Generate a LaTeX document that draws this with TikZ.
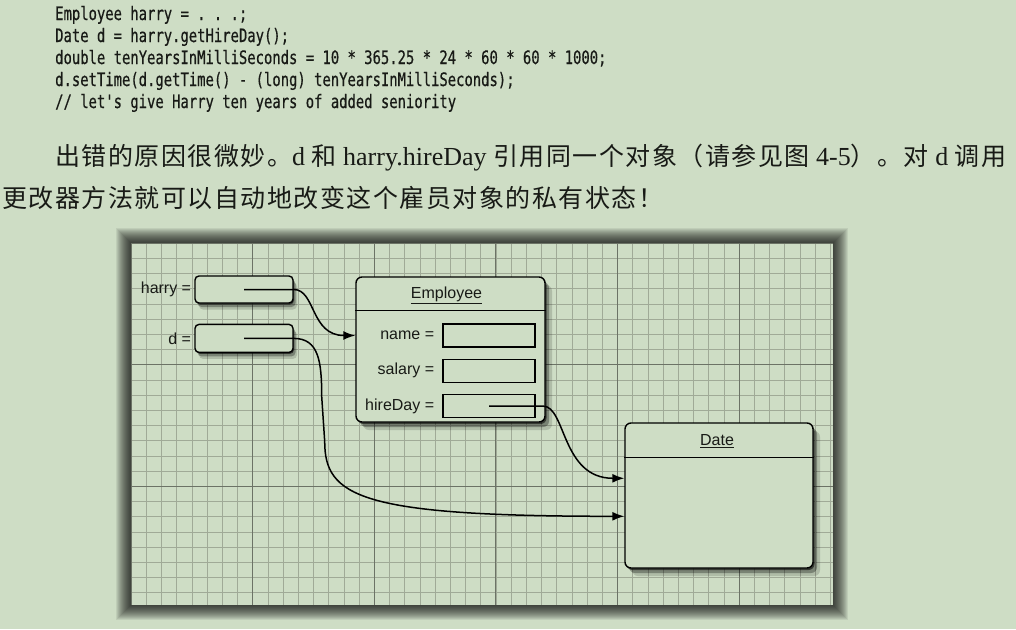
\documentclass[tikz,border=0pt]{standalone}
\usepackage{fontspec}
\setmainfont{Liberation Serif}
\setsansfont{Liberation Sans}
\setmonofont[FakeStretch=0.75,FakeBold=0.5]{DejaVu Sans Mono}
\newfontfamily\cjk[LetterSpace=6]{Noto Sans CJK SC}
\usetikzlibrary{positioning,arrows.meta,shadows,calc}
\definecolor{pagebg}{RGB}{206,221,197}
\definecolor{ink}{RGB}{24,26,22}
\definecolor{gridlo}{RGB}{160,170,151}
\definecolor{gridhi}{RGB}{108,115,102}
\newcommand{\zhtxt}[1]{{\cjk\fontsize{25}{30}\selectfont #1}}
\tikzstyle{codeln}=[anchor=base west, inner sep=0pt, text=ink,
                    font=\ttfamily\fontsize{18.5}{22}\selectfont]
\tikzstyle{paraln}=[anchor=base west, inner sep=0pt, text=ink,
                    font=\rmfamily\fontsize{26}{30}\selectfont]
\tikzstyle{ptrbox}=[rectangle, rounded corners=4pt, draw=black, fill=pagebg, line width=1.4pt,
                    minimum width=98pt, minimum height=27pt, inner sep=0pt,
                    drop shadow={shadow xshift=1pt, shadow yshift=-1.5pt, opacity=.55, fill=black},
                    drop shadow={shadow xshift=2.5pt, shadow yshift=-4pt, opacity=.3, fill=black},
                    drop shadow={shadow xshift=4pt, shadow yshift=-6.5pt, opacity=.15, fill=black}]
\tikzstyle{objbox}=[rectangle, rounded corners=6pt, draw=black, fill=pagebg, line width=1.4pt,
                    minimum width=189pt, minimum height=145pt, inner sep=0pt,
                    drop shadow={shadow xshift=1.5pt, shadow yshift=-2pt, opacity=.55, fill=black},
                    drop shadow={shadow xshift=4pt, shadow yshift=-5pt, opacity=.3, fill=black},
                    drop shadow={shadow xshift=7pt, shadow yshift=-8pt, opacity=.15, fill=black}]
\tikzstyle{fldbox}=[rectangle, draw=black, line width=1.3pt, minimum width=92pt,
                    minimum height=23pt, inner sep=0pt]
\tikzstyle{lbl}=[inner sep=0pt, text=ink, font=\sffamily\fontsize{16}{18}\selectfont]
\tikzstyle{hline}=[-, line width=1.3pt]
\tikzstyle{pline}=[-{Latex[length=12pt,width=9pt]}, line width=1.5pt]
\tikzstyle{gminor}=[gridlo, line width=0.6pt]
\tikzstyle{gmajor}=[gridhi, line width=0.8pt]

\begin{document}
\begin{tikzpicture}[x=1pt,y=1pt]
\path[fill=pagebg, use as bounding box] (0,0) rectangle (1016,-629);

\node (CODE1) [codeln] at (55,-20) {Employee harry = . . .;};
\node (CODE2) [codeln] at (55,-42) {Date d = harry.getHireDay();};
\node (CODE3) [codeln] at (55,-64) {double tenYearsInMilliSeconds = 10 * 365.25 * 24 * 60 * 60 * 1000;};
\node (CODE4) [codeln] at (55,-86) {d.setTime(d.getTime() - (long) tenYearsInMilliSeconds);};
\node (CODE5) [codeln] at (55,-108) {// let's give Harry ten years of added seniority};

\node (PARA1) [paraln] at (55,-165) {\zhtxt{出错的原因很微妙。}d \zhtxt{和} harry.hireDay \zhtxt{引用同一个对象（请参见图} 4-5\zhtxt{）。对} d \zhtxt{调用}};
\node (PARA2) [paraln] at (2,-207) {\zhtxt{更改器方法就可以自动地改变这个雇员对象的私有状态！}};

\node (PANEL) [minimum width=702pt, minimum height=362pt, inner sep=0pt, anchor=north west] at (131,-243) {};
\foreach \k in {1,...,15}
  \fill[black, opacity=0.07] ($(PANEL.south west)+(-\k,-\k)$) rectangle ($(PANEL.north east)+(\k,\k)$);
\fill[pagebg] (PANEL.south west) rectangle (PANEL.north east);
\foreach \i in {0,...,46}
  \draw[gminor] ($(PANEL.north west)+(\i*15.2,0)$) -- ($(PANEL.south west)+(\i*15.2,0)$);
\foreach \j in {0,...,23}
  \draw[gminor] ($(PANEL.north west)+(0,-\j*15.2)$) -- ($(PANEL.north east)+(0,-\j*15.2)$);
\foreach \i in {0,...,5}
  \draw[gmajor] ($(PANEL.north west)+(\i*121.6,0)$) -- ($(PANEL.south west)+(\i*121.6,0)$);
\foreach \j in {0,...,2}
  \draw[gmajor] ($(PANEL.north west)+(0,-\j*121.6)$) -- ($(PANEL.north east)+(0,-\j*121.6)$);

\node (HARRY) [ptrbox] at (244,-289.5) {};
\node (DREF) [ptrbox, minimum height=28pt, below=20pt of HARRY] {};
\node [lbl, left=3pt of HARRY] {harry =};
\node [lbl, left=3pt of DREF] {d =};

\node (EMP) [objbox] at (450.5,-349.5) {};
\draw[hline] ($(EMP.north west)+(0,-34)$) -- ($(EMP.north east)+(0,-34)$);
\node [lbl] at ($(EMP.north)+(-4,-19)$) {\underline{Employee}};
\node (NAMEF) [fldbox] at (489,-335.5) {};
\node (SALF) [fldbox, below=11pt of NAMEF] {};
\node (HIREF) [fldbox, below=11pt of SALF] {};
\node [lbl, left=8pt of NAMEF] {name =};
\node [lbl, left=8pt of SALF] {salary =};
\node [lbl, left=8pt of HIREF] {hireDay =};

\node (DATE) [objbox, minimum width=188pt] at (719,-495.5) {};
\draw[hline] ($(DATE.north west)+(0,-35)$) -- ($(DATE.north east)+(0,-35)$);
\node [lbl] at ($(DATE.north)+(-2,-19)$) {\underline{Date}};
\coordinate (DATEIN1) at ($(DATE.north west)+(0,-56)$);
\coordinate (DATEIN2) at ($(DATE.north west)+(0,-94)$);

\draw[pline] (HARRY.center) -- (HARRY.east) .. controls +(22,0) and +(-45,0) .. (EMP.west |- NAMEF);
\draw[pline] (DREF.center) -- (DREF.east) .. controls +(25,0) and +(0,35) .. ++(28,-58)
  -- ++(3,-45) .. controls +(0,-55) and +(-265,0) .. (DATEIN2);
\draw[pline] (HIREF.center) -- ++(54,0) .. controls +(23,0) and +(-63,0) .. (DATEIN1);

\end{tikzpicture}
\end{document}
